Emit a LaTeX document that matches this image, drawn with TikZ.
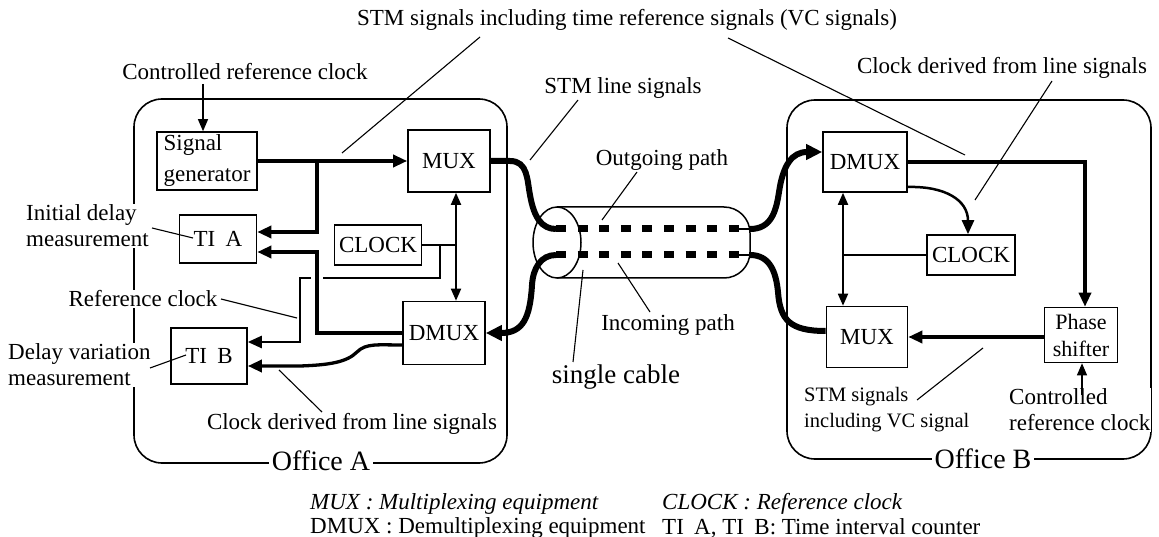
\documentclass[tikz,border=0pt]{standalone}
\usepackage{fontspec}
\setmainfont{Liberation Serif}
\usetikzlibrary{arrows.meta,calc}
\begin{document}
\begin{tikzpicture}[x=1pt,y=-1pt,
  lab/.style={font=\fontsize{23}{26}\selectfont, inner sep=1pt},
  blk/.style={draw, line width=1.6pt, font=\fontsize{23}{26}\selectfont, inner sep=0pt},
  thinl/.style={line width=1.1pt},
  midl/.style={line width=1.8pt},
  medl/.style={line width=2.5pt},
  sigl/.style={line width=3.3pt},
  cabl/.style={line width=6pt},
  tip/.style={-{Triangle[length=14pt,width=12pt]}},
  bigtip/.style={-{Triangle[length=16pt,width=15pt]}},
  smalltip/.style={-{Triangle[length=12pt,width=10pt]}},
  bothtips/.style={{Triangle[length=12pt,width=10pt]}-{Triangle[length=12pt,width=10pt]}},
  office/.style={draw, line width=1.6pt, rounded corners=28pt}]
\useasboundingbox (0,0) rectangle (1159,537);

% offices
\draw[office] (134,99) rectangle (507,463);
\draw[office] (787,100) rectangle (1151,459);

% cable
\draw[line width=1.5pt, rounded corners=26pt] (557,207) -- (750,207) -- (750,278) -- (557,278);
\draw[line width=1.5pt] (557,242.5) ellipse [x radius=24, y radius=35.5];
\coordinate (cTL) at (556,229);
\coordinate (cTR) at (739,229);
\coordinate (cBL) at (556,255);
\coordinate (cBR) at (739,255);
\coordinate (eTR) at (750,229);
\coordinate (eBR) at (750,255);
\draw[line width=7pt, dash pattern=on 10pt off 11.6pt] (cTL) -- (cTR);
\draw[line width=7pt, dash pattern=on 10pt off 11.6pt] (cBL) -- (cBR);

% blocks office A
\node[blk, minimum width=100pt, minimum height=58pt, align=left, font=\fontsize{23}{31}\selectfont] (sg) at (207,161) {Signal\\generator};
\node[blk, minimum width=82pt, minimum height=62pt] (muxA) at (449,161) {MUX};
\node[blk, minimum width=77pt, minimum height=48pt] (tiA) at (218,239) {TI\hspace{0.45em}A};
\node[blk, minimum width=87pt, minimum height=40pt] (clkA) at (378,245) {CLOCK};
\node[blk, minimum width=82pt, minimum height=63pt] (dmuxA) at (444,333) {DMUX};
\node[blk, minimum width=76pt, minimum height=56pt] (tiB) at (209,356) {TI\hspace{0.45em}B};

% blocks office B
\node[blk, minimum width=84pt, minimum height=60pt] (dmuxB) at (865,162) {DMUX};
\node[blk, minimum width=81pt, minimum height=61pt] (muxB) at (867,337) {MUX};
\node[blk, minimum width=88pt, minimum height=40pt] (clkB) at (971,255) {CLOCK};
\node[blk, minimum width=73pt, minimum height=55pt, align=center, font=\fontsize{22}{27}\selectfont] (ps) at (1081,335) {Phase\\shifter};

% labels
\node[lab] (tit) at (627,20) {STM signals including time reference signals (VC signals)};
\node[lab] (crc) at (245,72) {Controlled reference clock};
\node[lab] (cdt) at (1002,68) {Clock derived from line signals};
\node[lab] (stl) at (623,88) {STM line signals};
\node[lab, fill=white, align=left, anchor=west] (idm) at (25,226) {Initial delay\\measurement};
\node[lab, fill=white] (rcl) at (143,299) {Reference clock};
\node[lab, fill=white, align=left, anchor=west] (dvm) at (7,365) {Delay variation\\measurement};
\node[lab] (cdb) at (352,424) {Clock derived from line signals};
\node[lab, fill=white, inner sep=3pt, font=\fontsize{28}{30}\selectfont] (offA) at (321,461) {Office A};
\node[lab, fill=white, inner sep=3pt, font=\fontsize{28}{30}\selectfont] (offB) at (983,459) {Office B};
\node[lab] (outp) at (662,160) {Outgoing path};
\node[lab] (inp) at (668,325) {Incoming path};
\node[lab, font=\fontsize{27}{30}\selectfont] (sc) at (616,377) {single cable};
\node[lab, font=\fontsize{20.5}{26}\selectfont, align=left, anchor=west] (stmvc) at (803,410) {STM signals\\including VC signal};
\node[lab, fill=white, align=left, anchor=west] (crcB) at (1008,410) {Controlled\\reference clock};

% legend
\node[lab, anchor=west, font=\fontsize{23}{26}\selectfont\itshape] (lg1) at (309,504) {MUX : Multiplexing equipment};
\node[lab, anchor=west] (lg2) at (309,528) {DMUX : Demultiplexing equipment};
\node[lab, anchor=west, font=\fontsize{23}{26}\selectfont\itshape] (lg3) at (661,504) {CLOCK : Reference clock};
\node[lab, anchor=west] (lg4) at (661,528) {TI\hspace{0.45em}A, TI\hspace{0.45em}B: Time interval counter};

% ---- office A connectors
\coordinate (crcA) at (203,84);
\draw[thinl, smalltip] (crcA) -- (sg.north -| crcA);
\draw[sigl, tip] (sg.east) -- (muxA.west);
\coordinate (jA) at (317,161);
\coordinate (jA1) at (317,232);
\draw[sigl, tip] (jA) -- (jA1) -- (tiA.east |- jA1);
\coordinate (kA1) at (317,333);
\coordinate (kA2) at (317,252);
\draw[sigl, tip] (dmuxA.west) -- (kA1) -- (kA2) -- (tiA.east |- kA2);
\coordinate (vA) at (456,0);
\draw[midl, bothtips] (muxA.south -| vA) -- (dmuxA.north -| vA);
\draw[midl] (clkA.east) -- (clkA.east -| vA);
\coordinate (rA1) at (440,245);
\coordinate (rA2) at (440,278);
\coordinate (rA3) at (323,278);
\coordinate (rA4) at (311,278);
\coordinate (rA5) at (300,278);
\coordinate (rA6) at (300,342);
\draw[medl] (rA1) -- (rA2) -- (rA3);
\draw[medl, tip] (rA4) -- (rA5) -- (rA6) -- (tiB.east |- rA6);
\coordinate (wA) at (248,366);
\draw[sigl, tip] ([yshift=-12pt]dmuxA.west) .. controls (378,345) and (366,343) .. (357,352)
   .. controls (347,362) and (330,365) .. (300,366) -- (tiB.east |- wA);

% cable lines
\draw[cabl] (muxA.east) -- (510,161) .. controls (528,161) and (527,180) .. (530,195)
   .. controls (534,218) and (542,229) .. (cTL);
\draw[cabl, bigtip] (cBL) .. controls (541,255) and (533,268) .. (532,285)
   .. controls (530,318) and (523,333) .. (dmuxA.east);
\draw[cabl, bigtip] (eTR) .. controls (771,229) and (776,212) .. (779,192)
   .. controls (783,165) and (792,152) .. ([yshift=10pt]dmuxB.west);
\draw[cabl] (eBR) .. controls (770,255) and (776,272) .. (778,292)
   .. controls (780,320) and (790,331) .. ([yshift=6pt]muxB.west);
\draw[line width=1.5pt] (cTR) -- (eTR);
\draw[line width=1.5pt] (cBR) -- (eBR);

% ---- office B connectors
\coordinate (pB) at (1085,162);
\draw[sigl, tip] (dmuxB.east) -- (pB) -- (ps.north -| pB);
\draw[sigl, tip] (ps.west |- muxB.east) -- (muxB.east);
\coordinate (vB) at (843,0);
\draw[midl, bothtips] (dmuxB.south -| vB) -- (muxB.north -| vB);
\draw[midl] (clkB.west) -- (clkB.west -| vB);
\draw[medl, tip] ([yshift=-25pt]dmuxB.east) .. controls (945,186) and (968,200) .. ([xshift=-3pt]clkB.north);
\coordinate (crcBa) at (1082,395);
\draw[thinl, smalltip] (crcBa) -- (ps.south -| crcBa);

% ---- pointer lines
\coordinate (p1a) at (480,37);  \coordinate (p1b) at (342,153);
\coordinate (p2a) at (728,38);  \coordinate (p2b) at (965,155);
\coordinate (p3a) at (578,100); \coordinate (p3b) at (530,160);
\coordinate (p4a) at (637,172); \coordinate (p4b) at (602,220);
\coordinate (p5a) at (650,312); \coordinate (p5b) at (618,263);
\coordinate (p6a) at (573,362); \coordinate (p6b) at (583,270);
\coordinate (p7a) at (1052,81); \coordinate (p7b) at (975,200);
\coordinate (p8a) at (917,400); \coordinate (p8b) at (983,348);
\coordinate (p10a) at (152,228); \coordinate (p10b) at (193,238);
\coordinate (p11a) at (221,299); \coordinate (p11b) at (297,318);
\coordinate (p12a) at (150,368); \coordinate (p12b) at (186,355);
\coordinate (p13a) at (322,412); \coordinate (p13b) at (279,370);
\foreach \i in {1,2,3,4,5,6,7,8,10,11,12,13} {\draw[thinl] (p\i a) -- (p\i b);}
\end{tikzpicture}
\end{document}
